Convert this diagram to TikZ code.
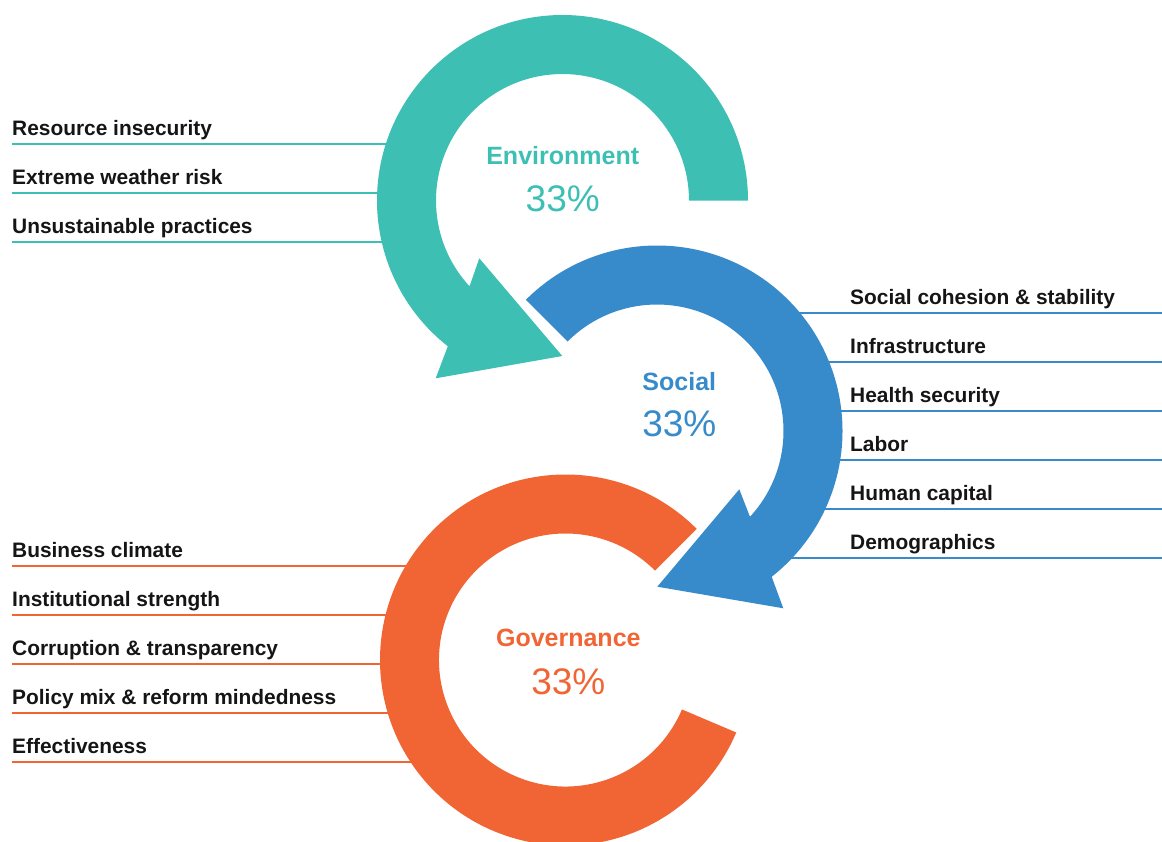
\documentclass[tikz,border=0pt]{standalone}
\usepackage{fontspec}
\setmainfont{Liberation Sans}
\definecolor{envteal}{HTML}{3DBFB4}
\definecolor{socblue}{HTML}{388BCA}
\definecolor{govorange}{HTML}{F16535}
\definecolor{lbltext}{HTML}{151515}
\tikzset{
  lbl/.style={inner sep=0pt, anchor=base west, text=lbltext, font=\fontsize{20.9}{25}\selectfont\bfseries},
  ttl/.style={inner sep=0pt, anchor=base, font=\fontsize{25}{30}\selectfont\bfseries},
  pct/.style={inner sep=0pt, anchor=base, font=\fontsize{37}{44}\selectfont},
  envline/.style={envteal, line width=2pt},
  socline/.style={socblue, line width=2pt},
  govline/.style={govorange, line width=2pt}
}
\begin{document}
\begin{tikzpicture}[x=1pt, y=-1pt]
\useasboundingbox (0,0) rectangle (1162,841);
\clip (0,0) rectangle (1162,841);
% environment labels
\node[lbl] (env1) at (12,135) {Resource insecurity};
\node[lbl] (env2) at (12,184) {Extreme weather risk};
\node[lbl] (env3) at (12,233) {Unsustainable practices};
\draw[envline] (env1.base west) ++(0,9) -- ++(418,0);
\draw[envline] (env2.base west) ++(0,9) -- ++(418,0);
\draw[envline] (env3.base west) ++(0,9) -- ++(418,0);
% social labels
\node[lbl] (soc1) at (850,304) {Social cohesion \& stability};
\node[lbl] (soc2) at (850,353) {Infrastructure};
\node[lbl] (soc3) at (850,402) {Health security};
\node[lbl] (soc4) at (850,451) {Labor};
\node[lbl] (soc5) at (850,500) {Human capital};
\node[lbl] (soc6) at (850,549) {Demographics};
\draw[socline] (soc1.base west) ++(-85,9) -- ++(397,0);
\draw[socline] (soc2.base west) ++(-55,9) -- ++(367,0);
\draw[socline] (soc3.base west) ++(-40,9) -- ++(352,0);
\draw[socline] (soc4.base west) ++(-40,9) -- ++(352,0);
\draw[socline] (soc5.base west) ++(-55,9) -- ++(367,0);
\draw[socline] (soc6.base west) ++(-85,9) -- ++(397,0);
% governance labels
\node[lbl] (gov1) at (12,557) {Business climate};
\node[lbl] (gov2) at (12,606) {Institutional strength};
\node[lbl] (gov3) at (12,655) {Corruption \& transparency};
\node[lbl] (gov4) at (12,704) {Policy mix \& reform mindedness};
\node[lbl] (gov5) at (12,753) {Effectiveness};
\draw[govline] (gov1.base west) ++(0,9) -- ++(418,0);
\draw[govline] (gov2.base west) ++(0,9) -- ++(418,0);
\draw[govline] (gov3.base west) ++(0,9) -- ++(418,0);
\draw[govline] (gov4.base west) ++(0,9) -- ++(418,0);
\draw[govline] (gov5.base west) ++(0,9) -- ++(418,0);
% rings
\fill[envteal] ([shift={(562.5,200.5)}]0:185.5) arc[start angle=0, end angle=-231.8, radius=185.5]
  -- (435.7,378.3) -- (562.3,356) -- (479.3,258.3)
  -- ([shift={(562.5,200.5)}]-222.7:126.5) arc[start angle=-222.7, end angle=0, radius=126.5] -- cycle;
\fill[socblue] ([shift={(657,431)}]-135:185.5) arc[start angle=-135, end angle=51.8, radius=185.5]
  -- (783.3,608.3) -- (657.3,586.7) -- (739.3,489.3)
  -- ([shift={(657,431)}]42.7:126.5) arc[start angle=42.7, end angle=-135, radius=126.5] -- cycle;
\fill[govorange] ([shift={(565.5,660)}]-45:185.5) arc[start angle=-45, end angle=-337, radius=185.5]
  -- ([shift={(565.5,660)}]23:126.5) arc[start angle=-337, end angle=-45, radius=126.5] -- cycle;
% titles
\node[ttl, text=envteal] (envttl) at (562.7,164.3) {Environment};
\node[pct, text=envteal] (envpct) at (562.7,211) {33\%};
\node[ttl, text=socblue] (socttl) at (679.3,390) {Social};
\node[pct, text=socblue] (socpct) at (679.3,436) {33\%};
\node[ttl, text=govorange] (govttl) at (568.3,646.7) {Governance};
\node[pct, text=govorange] (govpct) at (568.3,694) {33\%};
\end{tikzpicture}
\end{document}
